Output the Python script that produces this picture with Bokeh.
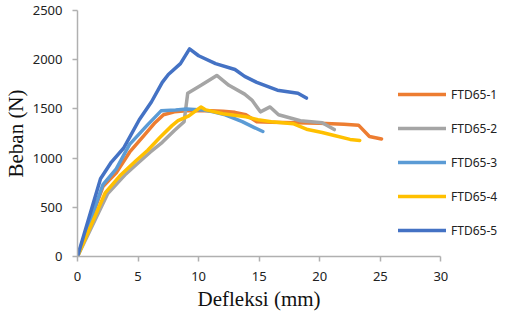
from bokeh.plotting import figure
from bokeh.models import Range1d, Legend, LegendItem, Title
from bokeh.embed import file_html
from bokeh.resources import INLINE

# FTD65-1
x1 = [0, 2.1, 3.2, 4.3, 5.5, 6.4, 7.1, 8.0, 9.0, 10.0, 11.0, 12.0, 13.0, 13.9, 14.8, 16.0, 18.0, 20.0, 22.0, 23.2, 24.1, 25.1]
y1 = [0, 710, 850, 1060, 1230, 1360, 1440, 1470, 1480, 1480, 1480, 1475, 1465, 1440, 1370, 1365, 1360, 1355, 1345, 1335, 1220, 1195]
# FTD65-2
x2 = [0, 2.5, 4.0, 5.0, 6.0, 7.0, 8.0, 8.8, 9.1, 10.2, 11.5, 12.5, 13.8, 14.4, 15.1, 15.9, 16.6, 18.4, 20.2, 21.2]
y2 = [0, 640, 840, 950, 1060, 1160, 1280, 1370, 1660, 1740, 1840, 1740, 1650, 1590, 1470, 1520, 1440, 1380, 1360, 1290]
# FTD65-3
x3 = [0, 2.1, 3.2, 4.3, 5.8, 6.9, 8.1, 9.0, 10.3, 11.2, 12.2, 13.6, 14.6, 15.3]
y3 = [0, 730, 890, 1140, 1340, 1480, 1490, 1500, 1490, 1470, 1440, 1370, 1310, 1270]
# FTD65-4
x4 = [0, 2.3, 3.5, 4.8, 5.8, 6.8, 7.8, 8.3, 9.2, 10.2, 10.6, 12.0, 13.9, 14.9, 16.0, 17.8, 19.0, 20.2, 21.2, 22.5, 23.3]
y4 = [0, 650, 820, 970, 1080, 1210, 1330, 1380, 1430, 1520, 1490, 1450, 1420, 1390, 1370, 1350, 1290, 1260, 1230, 1190, 1180]
# FTD65-5
x5 = [0, 1.9, 2.8, 3.8, 4.3, 5.1, 6.1, 7.0, 7.5, 8.5, 9.25, 10.0, 11.4, 13.0, 13.8, 14.8, 16.5, 18.2, 18.9]
y5 = [0, 790, 960, 1100, 1210, 1390, 1570, 1770, 1850, 1960, 2110, 2040, 1960, 1900, 1830, 1770, 1690, 1660, 1610]

names = ["FTD65-1", "FTD65-2", "FTD65-3", "FTD65-4", "FTD65-5"]
colors = ["#ED7D31", "#A5A5A5", "#5B9BD5", "#FFC000", "#4472C4"]
xs = [x1, x2, x3, x4, x5]
ys = [y1, y2, y3, y4, y5]

x_ticks = [0, 5, 10, 15, 20, 25, 30]
y_ticks = [0, 500, 1000, 1500, 2000, 2500]

p = figure(width=499, height=312, output_backend="svg", toolbar_location=None,
           x_range=Range1d(0, 34.84), y_range=Range1d(0, 2500),
           min_border_left=74, min_border_right=0, min_border_top=10, min_border_bottom=56)
p.outline_line_color = None
p.xgrid.visible = False
p.ygrid.visible = False

items = []
for x, y, c, n in zip(xs, ys, colors, names):
    r = p.line(x, y, line_color=c, line_width=3.5, line_join="round", line_cap="round")
    items.append(LegendItem(label=n, renderers=[r]))

axis_color = "#B0B0B0"
for ax in (p.xaxis[0], p.yaxis[0]):
    ax.axis_line_color = axis_color
    ax.axis_line_width = 1.5
    ax.major_tick_line_color = axis_color
    ax.major_tick_line_width = 1.5
    ax.major_tick_out = 5
    ax.major_tick_in = 0
    ax.minor_tick_line_color = None
    ax.major_label_text_font = "Noto Sans"
    ax.major_label_text_font_size = "13px"
    ax.major_label_text_color = "#222222"

p.xaxis[0].ticker = x_ticks
p.xaxis[0].bounds = (0, 30)
p.xaxis[0].major_label_standoff = 10
p.yaxis[0].ticker = y_ticks
p.yaxis[0].major_label_standoff = 10
p.yaxis[0].axis_label = "Beban (N)"
p.yaxis[0].axis_label_text_font = "Liberation Serif"
p.yaxis[0].axis_label_text_font_style = "normal"
p.yaxis[0].axis_label_text_font_size = "21px"
p.yaxis[0].axis_label_text_color = "#111111"
p.yaxis[0].axis_label_standoff = 2

xt = Title(text="Defleksi (mm)", align="left", offset=120, standoff=3,
           text_font="Liberation Serif", text_font_size="21px",
           text_font_style="normal", text_color="#111111")
p.add_layout(xt, "below")

legend = Legend(items=items, location=(321, 16), glyph_width=48, glyph_height=20,
                label_height=20, spacing=14, padding=0, margin=0, label_standoff=5,
                border_line_alpha=0, background_fill_alpha=0,
                label_text_font="Noto Sans", label_text_font_size="12px",
                label_text_color="#222222")
p.add_layout(legend)

open("out.html", "w").write(file_html(p, INLINE))
